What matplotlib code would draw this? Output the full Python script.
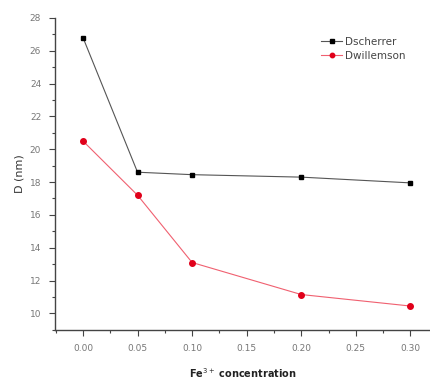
import matplotlib
matplotlib.use("Agg")
import matplotlib.pyplot as plt
from matplotlib.ticker import MultipleLocator

x = [0.00, 0.05, 0.10, 0.20, 0.30]
d_scherrer = [26.8, 18.6, 18.45, 18.3, 17.95]
d_willemson = [20.5, 17.2, 13.1, 11.15, 10.45]
xticks = [0.00, 0.05, 0.10, 0.15, 0.20, 0.25, 0.30]
yticks = [10, 12, 14, 16, 18, 20, 22, 24, 26, 28]

fig = plt.figure(figsize=(4.3, 3.8), dpi=100)
ax = fig.add_axes([0.128, 0.132, 0.872, 0.821])

ax.plot(x, d_scherrer, color="#555555", lw=0.8, marker="s", ms=3.5,
        mfc="black", mec="black", label="Dscherrer")
ax.plot(x, d_willemson, color="#f06070", lw=0.8, marker="o", ms=4,
        mfc="#e0001a", mec="#e0001a", label="Dwillemson")

ax.set_xlim(-0.0256, 0.318)
ax.set_ylim(9, 28)
ax.set_xticks(xticks)
ax.set_xticklabels([f"{v:.2f}" for v in xticks])
ax.set_yticks(yticks)
ax.xaxis.set_minor_locator(MultipleLocator(0.025))
ax.yaxis.set_minor_locator(MultipleLocator(1))
for s in ["top", "right"]:
    ax.spines[s].set_visible(False)
for s in ["left", "bottom"]:
    ax.spines[s].set_color("#444444")
    ax.spines[s].set_linewidth(1.0)
ax.tick_params(which="major", length=4, width=0.8, color="#444444",
               labelsize=6.5, labelcolor="#777777", direction="out", pad=6)
ax.tick_params(which="minor", length=2.5, width=0.8, color="#444444", direction="out")

ax.set_ylabel("D (nm)", fontsize=8, color="#333333", labelpad=4)
ax.set_xlabel("Fe$^{3+}$ concentration", fontsize=7, fontweight="bold",
              color="#222222", labelpad=10)

leg = ax.legend(loc="upper right", bbox_to_anchor=(0.96, 0.97), frameon=False,
                fontsize=7.5, handlelength=2.0, handletextpad=0.3,
                labelspacing=0.4, markerscale=0.8)
for t in leg.get_texts():
    t.set_color("#444444")

fig.savefig("out.png", dpi=100)
